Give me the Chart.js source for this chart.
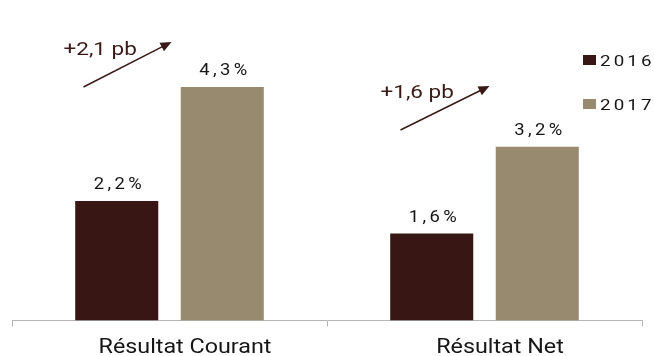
<!DOCTYPE html>
<html>
<head>
<meta charset="utf-8">
<script src="https://cdn.jsdelivr.net/npm/chart.js@4.4.1/dist/chart.umd.min.js"></script>
<style>
  html, body { margin: 0; padding: 0; background: #ffffff; }
  #wrap { width: 654px; height: 356px; position: relative; }
</style>
</head>
<body>
<div id="wrap"><canvas id="c"></canvas></div>
<script>
// Marge opérationnelle : résultat courant et résultat net, 2016 vs 2017 (en %)
const categories = ['Résultat Courant', 'Résultat Net'];
const seriesLabels = ['2016', '2017'];
const values2016 = [2.2, 1.6];
const values2017 = [4.3, 3.2];

const COLOR_2016 = '#371613';
const COLOR_2017 = '#988a6f';
const TEXT = '#161616';
const ARROW = '#3a1a17';

const fmt = v => v.toFixed(1).replace('.', ',');

// Draws text horizontally widened, with optional letter spacing.
function wideText(ctx, txt, x, y, font, spacing, sx, align) {
  ctx.save();
  ctx.font = font;
  ctx.letterSpacing = spacing + 'px';
  ctx.textAlign = 'left';
  ctx.textBaseline = 'alphabetic';
  const w = ctx.measureText(txt).width - spacing; // drop trailing spacing
  const x0 = align === 'center' ? x - (w * sx) / 2 : x;
  ctx.translate(x0, y);
  ctx.scale(sx, 1);
  ctx.fillText(txt, 0, 0);
  ctx.restore();
}

// Value labels above each bar
const valueLabels = {
  id: 'valueLabels',
  afterDatasetsDraw(chart) {
    const ctx = chart.ctx;
    chart.data.datasets.forEach((ds, di) => {
      chart.getDatasetMeta(di).data.forEach((bar, i) => {
        ctx.fillStyle = TEXT;
        wideText(ctx, fmt(ds.data[i]) + '%', bar.x + 1, bar.y - 12, '16px Roboto', 3, 1.15, 'center');
      });
    });
  }
};

// Category names under the axis
const categoryLabels = {
  id: 'categoryLabels',
  afterDraw(chart) {
    const ctx = chart.ctx;
    const xs = chart.scales.x;
    chart.data.labels.forEach((lab, i) => {
      ctx.fillStyle = TEXT;
      wideText(ctx, lab, xs.getPixelForValue(i) + 15.5, 353, '21px Roboto', 0, 1.11, 'center');
    });
  }
};

// Evolution arrows (+x pb) between the two years
const evolution = {
  id: 'evolution',
  afterDatasetsDraw(chart) {
    const ctx = chart.ctx;
    const xs = chart.scales.x;
    const layout = [
      { sx: -86, sy: 87, ex: 2, ey: 42, tx: -106, ty: 55 },
      { sx: -84, sy: 130, ex: 5, ey: 86, tx: -104, ty: 98 }
    ];
    categories.forEach((c, i) => {
      const cx = xs.getPixelForValue(i);
      const L = layout[i];
      const x1 = cx + L.sx, y1 = L.sy, x2 = cx + L.ex, y2 = L.ey;
      const ang = Math.atan2(y2 - y1, x2 - x1);
      const head = 12;
      ctx.save();
      ctx.strokeStyle = ARROW;
      ctx.lineWidth = 1.5;
      ctx.beginPath();
      ctx.moveTo(x1, y1);
      ctx.lineTo(x2 - Math.cos(ang) * head * 0.8, y2 - Math.sin(ang) * head * 0.8);
      ctx.stroke();
      ctx.fillStyle = ARROW;
      ctx.beginPath();
      ctx.moveTo(x2, y2);
      ctx.lineTo(x2 - head * Math.cos(ang - 0.42), y2 - head * Math.sin(ang - 0.42));
      ctx.lineTo(x2 - head * Math.cos(ang + 0.42), y2 - head * Math.sin(ang + 0.42));
      ctx.closePath();
      ctx.fill();
      ctx.restore();
      const delta = values2017[i] - values2016[i];
      ctx.fillStyle = ARROW;
      wideText(ctx, '+' + fmt(delta) + ' pb', cx + L.tx, L.ty, '18px Roboto', 0, 1.25, 'left');
    });
  }
};

// Legend at the top right: square + spaced year
const sideLegend = {
  id: 'sideLegend',
  afterDraw(chart) {
    const ctx = chart.ctx;
    chart.data.datasets.forEach((ds, i) => {
      const y = 60 + i * 44;
      ctx.fillStyle = ds.backgroundColor;
      ctx.fillRect(583, y - 5, 13, 10);
      ctx.fillStyle = TEXT;
      wideText(ctx, ds.label, 600, y + 5.5, '15px Roboto', 2.5, 1.25, 'left');
    });
  }
};

new Chart(document.getElementById('c'), {
  type: 'bar',
  data: {
    labels: categories,
    datasets: [
      { label: seriesLabels[0], data: values2016, backgroundColor: COLOR_2016 },
      { label: seriesLabels[1], data: values2017, backgroundColor: COLOR_2017 }
    ]
  },
  options: {
    responsive: true,
    maintainAspectRatio: false,
    animation: false,
    categoryPercentage: 0.67,
    barPercentage: 0.787,
    layout: { padding: { left: 12, right: 12, top: 0, bottom: 29.5 } },
    plugins: { legend: { display: false }, tooltip: { enabled: false } },
    scales: {
      x: {
        grid: { display: true, drawOnChartArea: false, drawTicks: true, tickLength: 6, color: '#b5b5b5', offset: true },
        border: { display: true, color: '#b5b5b5', width: 1 },
        ticks: { display: false }
      },
      y: { display: false, min: 0, max: 5.9 }
    }
  },
  plugins: [valueLabels, evolution, sideLegend, categoryLabels]
});
</script>
</body>
</html>
